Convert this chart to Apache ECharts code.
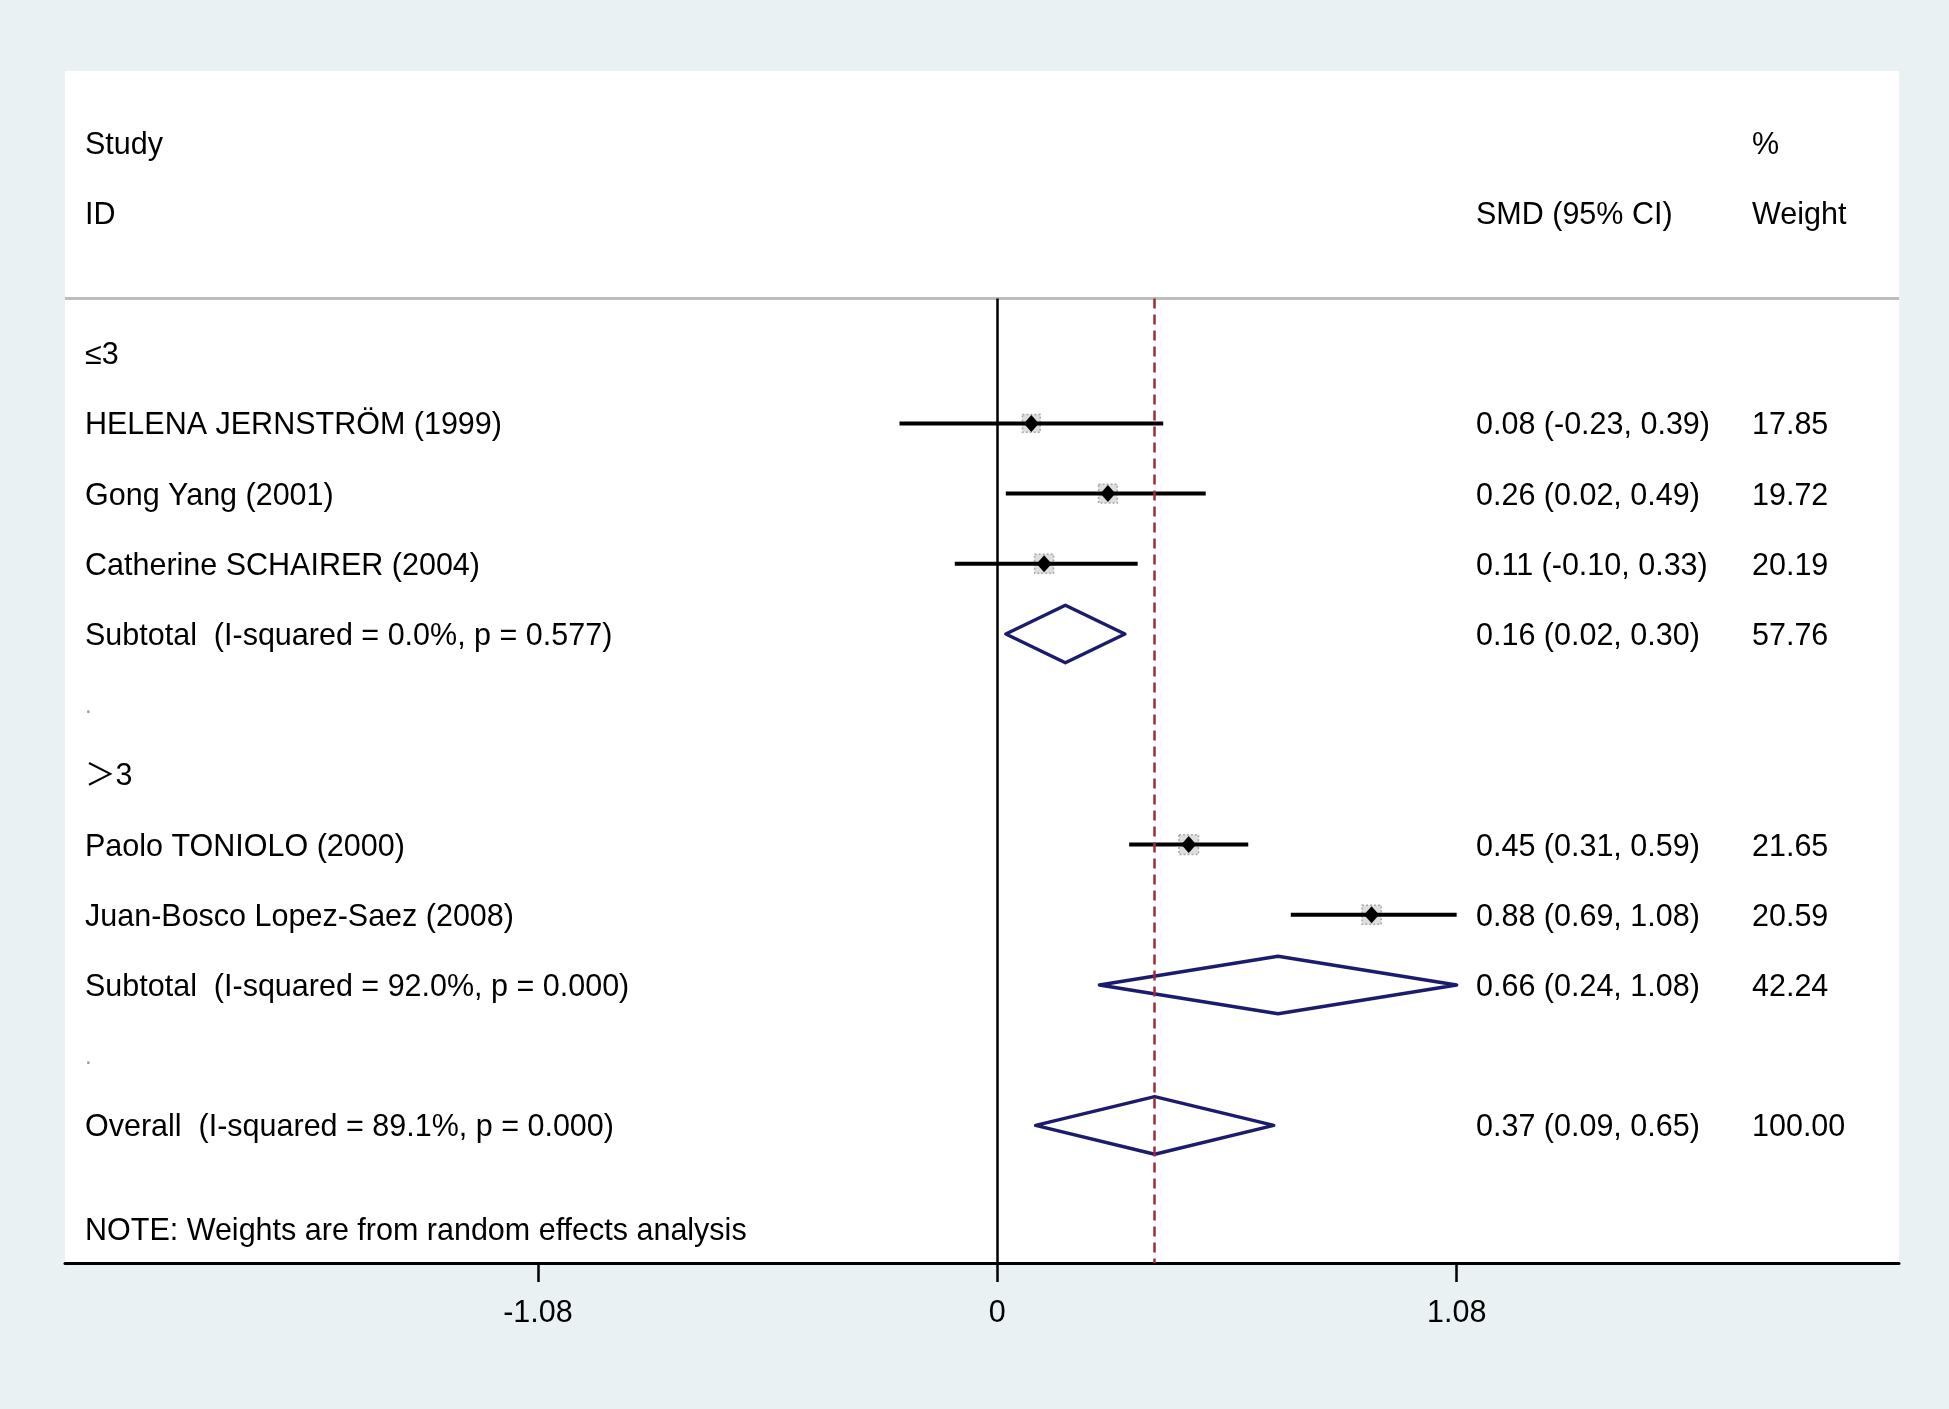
<!DOCTYPE html>
<html><head><meta charset="utf-8">
<script src="https://cdn.jsdelivr.net/npm/echarts@6/dist/echarts.min.js"></script>
<style>html,body{margin:0;padding:0;background:#e9f1f3}#c{width:1949px;height:1409px}</style>
</head><body><div id="c"></div>
<script>
// ---- data ----
const studyNames = ['HELENA JERNSTRÖM (1999)', 'Gong Yang (2001)', 'Catherine SCHAIRER (2004)', 'Paolo TONIOLO (2000)', 'Juan-Bosco Lopez-Saez (2008)'];
const studyRows = [1, 2, 3, 7, 8];
const studyEst = [0.08, 0.26, 0.11, 0.45, 0.88];
const studyLo = [-0.23, 0.02, -0.10, 0.31, 0.69];
const studyHi = [0.39, 0.49, 0.33, 0.59, 1.08];
const studyWeight = [17.85, 19.72, 20.19, 21.65, 20.59];

const poolNames = ['Subtotal  (I-squared = 0.0%, p = 0.577)', 'Subtotal  (I-squared = 92.0%, p = 0.000)', 'Overall  (I-squared = 89.1%, p = 0.000)'];
const poolRows = [4, 9, 11];
const poolEst = [0.16, 0.66, 0.37];
const poolLo = [0.02, 0.24, 0.09];
const poolHi = [0.30, 1.08, 0.65];
const poolWeight = [57.76, 42.24, 100.00];

const groupLabels = ['≤3', '＞3'];
const groupRows = [0, 6];
const spacerRows = [5, 10];
const headerLeft = ['Study', 'ID'];
const headerMid = ['', 'SMD (95% CI)'];
const headerRight = ['%', 'Weight'];
const headerRows = [-3, -2];
const noteText = 'NOTE: Weights are from random effects analysis';
const noteRow = 12.48;
const xTicks = [-1.08, 0, 1.08];
const xTickLabels = ['-1.08', '0', '1.08'];

// axis extents
const XMIN = -2.192, XMAX = 2.120;
const YMIN = -4.02, YMAX = 12.96;
const HEADER_Y = -0.78;

// ---- build text tables ----
const leftText = {}, midText = {}, rightText = {};
headerRows.forEach((r, i) => { leftText[r] = headerLeft[i]; midText[r] = headerMid[i]; rightText[r] = headerRight[i]; });
groupRows.forEach((r, i) => { leftText[r] = groupLabels[i]; });
spacerRows.forEach(r => { leftText[r] = '{d|.}'; });
const ci = (e, l, h) => e.toFixed(2) + ' (' + l.toFixed(2) + ', ' + h.toFixed(2) + ')';
studyRows.forEach((r, i) => {
  leftText[r] = studyNames[i];
  midText[r] = ci(studyEst[i], studyLo[i], studyHi[i]);
  rightText[r] = studyWeight[i].toFixed(2);
});
poolRows.forEach((r, i) => {
  leftText[r] = poolNames[i];
  midText[r] = ci(poolEst[i], poolLo[i], poolHi[i]);
  rightText[r] = poolWeight[i].toFixed(2);
});
leftText[noteRow] = noteText;

const FONT = '"Liberation Sans", Arial, "Noto Sans CJK SC", sans-serif';
const FS = 30.5;
const leftRows = Object.keys(leftText).map(Number);
const midRows = Object.keys(midText).filter(k => midText[k] !== '').map(Number);
const rightRows = Object.keys(rightText).map(Number);

function yAx(rows, table, position, margin, align) {
  return {
    type: 'value', min: YMIN, max: YMAX, inverse: true, position: position,
    axisLine: { show: false, onZero: false }, axisTick: { show: false }, splitLine: { show: false },
    axisLabel: {
      show: true, inside: true, margin: margin, align: align,
      customValues: rows, padding: [5, 0, 0, 0],
      formatter: v => table[v] !== undefined ? table[v] : (table[String(v)] || ''),
      fontSize: FS, color: '#000', fontFamily: FONT,
      rich: { d: { fontSize: 24, color: '#999', fontFamily: FONT } }
    }
  };
}

const studyData = studyRows.map((r, i) => [r, studyEst[i], studyLo[i], studyHi[i], studyWeight[i]]);
const poolData = poolRows.map((r, i) => [r, poolEst[i], poolLo[i], poolHi[i], poolWeight[i]]);

const chart = echarts.init(document.getElementById('c'), null, { renderer: 'canvas' });
chart.setOption({
  backgroundColor: '#e9f1f3',
  animation: false,
  grid: { left: 65, right: 50, top: 71, bottom: 146, show: true, backgroundColor: '#ffffff', borderWidth: 0 },
  xAxis: {
    type: 'value', min: XMIN, max: XMAX,
    axisLine: { show: true, onZero: false, lineStyle: { color: '#000', width: 3 } },
    axisTick: { show: true, customValues: xTicks, length: 19, lineStyle: { color: '#000', width: 2.5 } },
    axisLabel: {
      show: true, customValues: xTicks, margin: 35, fontSize: FS, color: '#000', fontFamily: FONT,
      formatter: v => { const k = xTicks.findIndex(t => Math.abs(t - v) < 1e-9); return k >= 0 ? xTickLabels[k] : ''; }
    },
    splitLine: { show: false }
  },
  yAxis: [
    yAx(leftRows, leftText, 'left', 20, 'left'),
    yAx(midRows, midText, 'right', 423, 'left'),
    yAx(rightRows, rightText, 'right', 147, 'left')
  ],
  series: [
    {
      type: 'line', data: [], z: 1, silent: true,
      markLine: {
        silent: true, symbol: ['none', 'none'], label: { show: false }, animation: false,
        data: [
          [{ coord: [XMIN, HEADER_Y], lineStyle: { color: '#bdbdbd', width: 3, type: 'solid' } }, { coord: [XMAX, HEADER_Y] }],
          [{ coord: [0, HEADER_Y], lineStyle: { color: '#000', width: 2.5, type: 'solid' } }, { coord: [0, YMAX] }],
          [{ coord: [poolEst[2], HEADER_Y], lineStyle: { color: '#a02c38', width: 2.5, type: [10, 6] } }, { coord: [poolEst[2], YMAX] }]
        ]
      }
    },
    {
      type: 'custom', z: 3, silent: true,
      data: studyData,
      encode: { x: [1, 2, 3], y: 0 },
      renderItem: (params, api) => {
        const row = api.value(0), est = api.value(1), lo = api.value(2), hi = api.value(3), w = api.value(4);
        const pL = api.coord([lo, row]), pR = api.coord([hi, row]), pC = api.coord([est, row]);
        const box = Math.sqrt(w) * 4.2;
        return {
          type: 'group', children: [
            { type: 'rect', shape: { x: pC[0] - box / 2, y: pC[1] - box / 2, width: box, height: box },
              style: { fill: 'rgba(200,200,200,0.6)', stroke: '#a8a8a8', lineWidth: 1.5, lineDash: [2, 2] } },
            { type: 'line', shape: { x1: pL[0], y1: pL[1], x2: pR[0], y2: pR[1] },
              style: { stroke: '#000', lineWidth: 4 } },
            { type: 'polygon', shape: { points: [[pC[0] - 7.5, pC[1]], [pC[0], pC[1] - 8.5], [pC[0] + 7.5, pC[1]], [pC[0], pC[1] + 8.5]] },
              style: { fill: '#000' } }
          ]
        };
      }
    },
    {
      type: 'custom', z: 4, silent: true,
      data: poolData,
      encode: { x: [1, 2, 3], y: 0 },
      renderItem: (params, api) => {
        const row = api.value(0), est = api.value(1), lo = api.value(2), hi = api.value(3);
        const h = 0.41;
        return {
          type: 'polygon',
          shape: { points: [api.coord([lo, row]), api.coord([est, row - h]), api.coord([hi, row]), api.coord([est, row + h])] },
          style: { fill: 'none', stroke: '#1c1c6c', lineWidth: 3.5, lineJoin: 'round' }
        };
      }
    }
  ]
});
</script>
</body></html>
